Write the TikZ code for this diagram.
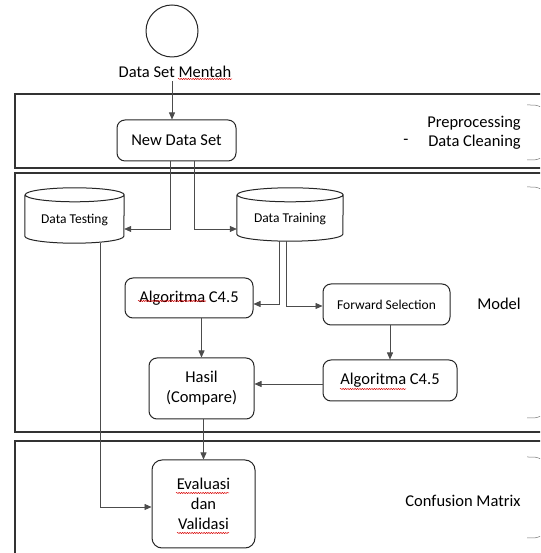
\documentclass[tikz,border=0pt]{standalone}
\usepackage{fontspec}
\setmainfont{Carlito}
\usetikzlibrary{arrows.meta,decorations.pathmorphing}
\begin{document}
\begin{tikzpicture}[x=1pt,y=1pt,
  box/.style={draw=black!85, line width=1pt, rounded corners=8pt, align=center, inner sep=0pt},
  big/.style={font=\fontsize{16.5}{20}\selectfont},
  small/.style={font=\fontsize{13.5}{16}\selectfont},
  conn/.style={draw=black!70, line width=0.6pt},
  arr/.style={conn, -{Triangle[length=7pt,width=6pt]}},
  panel/.style={draw=black!80, line width=1.1pt},
  cylline/.style={draw=black!85, line width=1pt},
  squig/.style={draw=red!85!black, line width=0.5pt, decorate, decoration={snake, amplitude=0.6pt, segment length=2.4pt}},
  bmark/.style={draw=black!55, line width=0.5pt},
  cyl/.style={inner sep=0pt, align=center}
]
\clip (0,0) rectangle (540,553);
\fill[white] (0,0) rectangle (540,553);
% panels
\draw[panel] (15,459) rectangle (560,385);
\draw[panel, line width=1.8pt] (15,380) rectangle (560,121);
\draw[panel] (15,112) rectangle (560,-10);
% start
\node[draw=black!85, circle, minimum size=52, line width=1pt] (start) at (172,522) {};
\node[big] (mentah) at (175,481) {Data Set Mentah};
% boxes
\node[box,big,minimum width=119,minimum height=41] (nds) at (176.5,412.5) {New Data Set};
\node[cyl,small,minimum width=99,minimum height=55] (dt) at (74.5,337.5) {\raisebox{-8pt}[0pt][0pt]{Data Testing}};
\node[cyl,small,minimum width=106,minimum height=53] (dtr) at (290,338.5) {\raisebox{-8.5pt}[0pt][0pt]{Data Training}};
\node[box,big,minimum width=128,minimum height=40] (alg1) at (189,255) {Algoritma C4.5};
\node[box,small,minimum width=127,minimum height=41] (fs) at (386.5,248.5) {Forward Selection};
\node[box,big,minimum width=105,minimum height=61] (hasil) at (201.5,164.5) {Hasil\\(Compare)};
\node[box,big,minimum width=134,minimum height=41] (alg2) at (390,172.5) {Algoritma C4.5};
\node[box,big,minimum width=103,minimum height=88,rounded corners=10pt] (eval) at (203.5,49) {Evaluasi\\dan\\Validasi};
% cylinders
\draw[cylline] ([yshift=-7]dt.north west) -- ([yshift=7]dt.south west)
  arc[start angle=180,end angle=360,x radius=49.5,y radius=7] -- ([yshift=-7]dt.north east)
  arc[start angle=0,end angle=360,x radius=49.5,y radius=7];
\draw[cylline] ([yshift=-7]dtr.north west) -- ([yshift=7]dtr.south west)
  arc[start angle=180,end angle=360,x radius=53,y radius=7] -- ([yshift=-7]dtr.north east)
  arc[start angle=0,end angle=360,x radius=53,y radius=7];
% labels
\node[big] (pre) at (474,430) {Preprocessing};
\node[big] (dc) at (474.5,411) {Data Cleaning};
\node[big] (dash) at (406,411) {-};
\node[big] (model) at (499,249) {Model};
\node[big] (cm) at (463,52) {Confusion Matrix};
% connectors
\draw[arr] (start.south |- mentah.south) -- (start.south |- nds.north);
\draw[arr] (170,0 |- nds.south) |- (dt.east |- 0,324);
\draw[arr] (194,0 |- nds.south) |- (dtr.west |- 0,324);
\draw[arr] (279,0 |- dtr.south) |- (alg1.east |- 0,249);
\draw[arr] (286,0 |- dtr.south) |- (fs.west |- 0,247);
\draw[arr] (hasil.north |- alg1.south) -- (hasil.north);
\draw[arr] (alg2.north |- fs.south) -- (alg2.north);
\draw[arr] (alg2.west |- 0,169) -- (hasil.east |- 0,169);
\draw[arr] (eval.north |- hasil.south) -- (eval.north);
\draw[arr] (100,0 |- dt.south) |- (eval.west |- 0,46);
% brace marks
\foreach \yy in {448,366,96} {\draw[bmark] (527,\yy) .. controls (536,\yy) .. (541,\yy-2);}
\foreach \yy in {393,135,15} {\draw[bmark] (527,\yy) .. controls (536,\yy) .. (541,\yy+2);}
% spell-check squiggles
\draw[squig] (178,474) -- (232,474);
\draw[squig] (138,252) -- (206,252);
\draw[squig] (340,164) -- (406,164);
\draw[squig] (176,60) -- (229,60);
\draw[squig] (177,20) -- (229,20);
\end{tikzpicture}
\end{document}
